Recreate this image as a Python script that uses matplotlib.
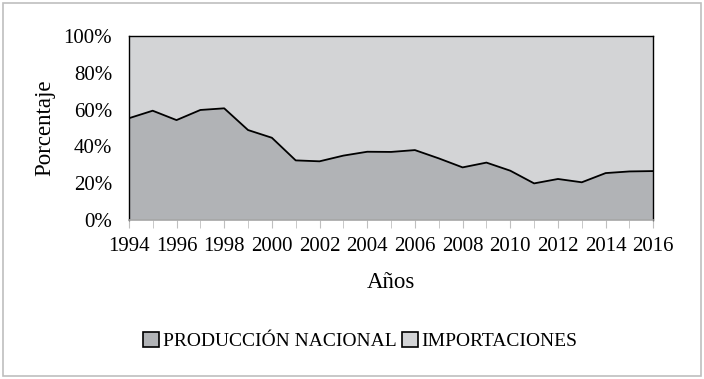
import matplotlib.pyplot as plt
from matplotlib.patches import Rectangle
from matplotlib.ticker import PercentFormatter

plt.rcParams['font.family'] = ['Liberation Serif', 'DejaVu Serif']

years = list(range(1994, 2017))
produccion = [55.3, 59.4, 54.3, 59.8, 60.7, 48.9, 44.7, 32.4, 31.9, 35.0, 37.1, 37.0,
              38.0, 33.5, 28.6, 31.2, 26.8, 19.9, 22.3, 20.5, 25.5, 26.4, 26.6]
importaciones = [100 - p for p in produccion]

c_prod = '#b1b3b6'
c_imp = '#d3d4d6'

fig = plt.figure(figsize=(7.04, 3.79), dpi=100)
ax = fig.add_axes([0.183, 0.4195, 0.745, 0.4855])

ax.stackplot(years, produccion, importaciones, colors=[c_prod, c_imp],
             labels=['PRODUCCIÓN NACIONAL', 'IMPORTACIONES'], edgecolor='none')
ax.plot(years, produccion, color='black', lw=1.3)

ax.set_xlim(1994, 2016)
ax.set_ylim(0, 100)
ax.set_xticks(range(1994, 2017, 2))
ax.set_xticks(range(1994, 2017), minor=True)
ax.set_yticks(range(0, 101, 20))
ax.yaxis.set_major_formatter(PercentFormatter(decimals=0))
ax.tick_params(axis='both', labelsize=15, colors='black')
ax.tick_params(axis='x', which='both', length=6, color='#bfbfbf', pad=6)
ax.tick_params(axis='y', length=0, pad=12)

for side in ['top', 'right', 'left']:
    ax.spines[side].set_color('black')
    ax.spines[side].set_linewidth(1.0)
ax.spines['bottom'].set_color('#a6a6a6')
ax.spines['bottom'].set_linewidth(1.2)

ax.set_xlabel('Años', fontsize=16.5, labelpad=12)
ax.set_ylabel('Porcentaje', fontsize=16.5, labelpad=6)

handles = [Rectangle((0, 0), 1, 1, facecolor=c_prod, edgecolor='black', lw=1.2),
           Rectangle((0, 0), 1, 1, facecolor=c_imp, edgecolor='black', lw=1.2)]
fig.legend(handles, ['PRODUCCIÓN NACIONAL', 'IMPORTACIONES'], loc='center',
           bbox_to_anchor=(0.512, 0.1), ncol=2, frameon=False, fontsize=14,
           handlelength=0.8, handleheight=0.8, handletextpad=0.2, columnspacing=0.3)

fig.patches.append(Rectangle((0.004, 0.008), 0.992, 0.984, transform=fig.transFigure,
                             fill=False, edgecolor='#bfbfbf', lw=1.2))

fig.savefig('out.png', dpi=100)
